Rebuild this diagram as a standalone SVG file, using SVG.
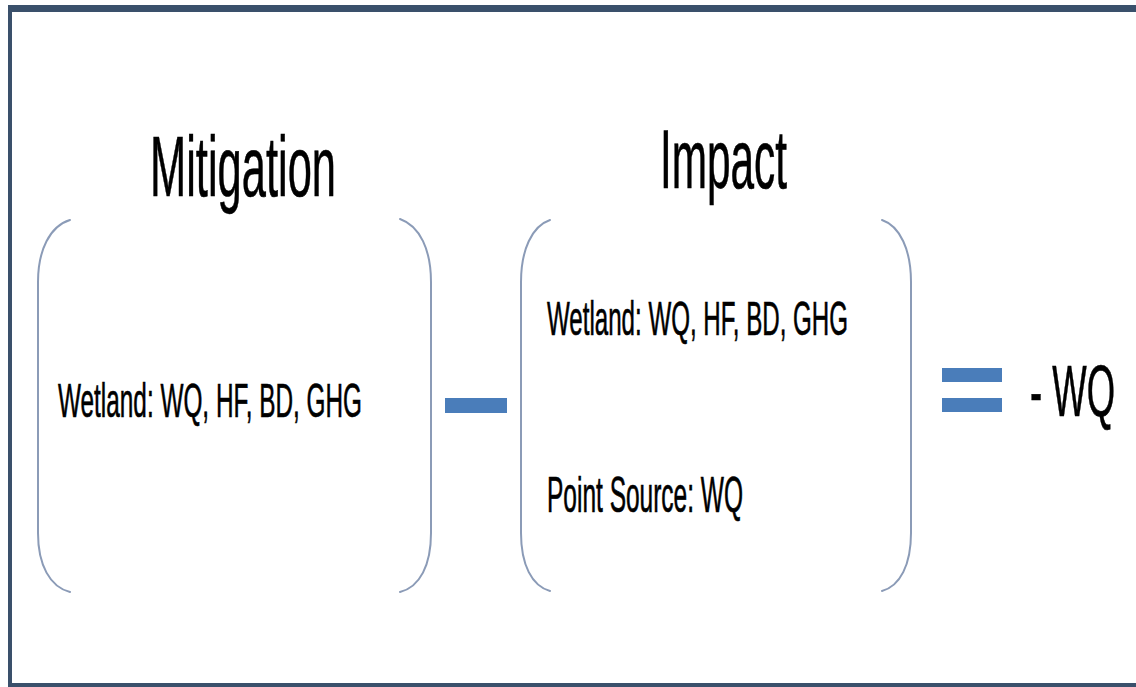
<svg xmlns="http://www.w3.org/2000/svg" width="1136" height="687" viewBox="0 0 1136 687">
  <style>
    .t { font-family: "Liberation Sans Narrow", "Liberation Sans", Arial, sans-serif; fill: #000; stroke: #000; stroke-width: 0.4; }
    .br { fill: none; stroke: #8b9bb7; stroke-width: 2; stroke-linecap: round; }
    .op { fill: #4a7dba; }
    .frame { fill: #3a506b; }
  </style>
  <rect x="0" y="0" width="1136" height="687" fill="#ffffff"/>
  <g id="frame">
    <rect class="frame" x="8" y="5" width="1128" height="7"/>
    <rect class="frame" x="8" y="5" width="4" height="682"/>
    <rect class="frame" x="8" y="683" width="1128" height="4"/>
  </g>
  <g id="mitigation">
    <text class="t" transform="translate(150,196) scale(1,1.604)" x="0" y="0" font-size="53" textLength="186" lengthAdjust="spacingAndGlyphs">Mitigation</text>
    <path class="br" d="M70,220 C50,226 38,250 38,282 L38,533 C38,565 50,587 70,592"/>
    <path class="br" d="M400,219 C420,226 431,250 431,282 L431,533 C431,565 420,587 400,592"/>
    <text class="t" transform="translate(58,417) scale(1,1.667)" x="0" y="0" font-size="29.4" textLength="304" lengthAdjust="spacingAndGlyphs">Wetland: WQ, HF, BD, GHG</text>
  </g>
  <g id="minus">
    <rect class="op" x="445" y="398" width="62" height="15"/>
  </g>
  <g id="impact">
    <text class="t" transform="translate(660,188) scale(1,1.628)" x="0" y="0" font-size="51.6" textLength="127" lengthAdjust="spacingAndGlyphs">Impact</text>
    <path class="br" d="M550,220 C532,226 521,250 521,282 L521,533 C521,565 532,586 550,591"/>
    <path class="br" d="M882,220 C900,226 911,250 911,282 L911,533 C911,565 900,586 882,591"/>
    <text class="t" transform="translate(547,335) scale(1,1.684)" x="0" y="0" font-size="29.1" textLength="301" lengthAdjust="spacingAndGlyphs">Wetland: WQ, HF, BD, GHG</text>
    <text class="t" transform="translate(547,512) scale(1,1.64)" x="0" y="0" font-size="29.9" textLength="196" lengthAdjust="spacingAndGlyphs">Point Source: WQ</text>
  </g>
  <g id="equals">
    <rect class="op" x="942" y="368" width="60" height="14"/>
    <rect class="op" x="942" y="398" width="60" height="14"/>
  </g>
  <g id="result">
    <text class="t" transform="translate(1030,416) scale(1,1.644)" x="0" y="0" font-size="44.4" textLength="85" lengthAdjust="spacingAndGlyphs">- WQ</text>
  </g>
  <g id="connectors"/>
</svg>
